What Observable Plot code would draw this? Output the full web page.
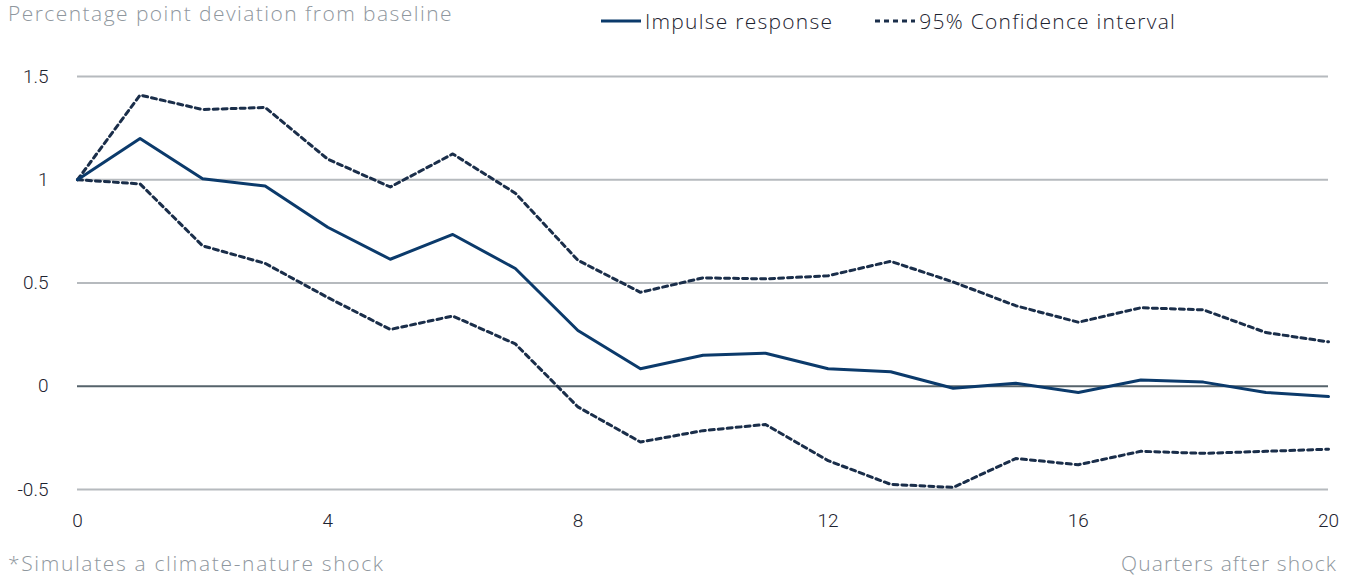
<!DOCTYPE html>
<html>
<head>
<meta charset="utf-8">
<script src="https://cdn.jsdelivr.net/npm/d3@7"></script>
<script src="https://cdn.jsdelivr.net/npm/@observablehq/plot@0.6"></script>
<style>
  html, body { margin: 0; padding: 0; background: #fff; }
  body { width: 1354px; height: 579px; overflow: hidden; position: relative; font-family: "Open Sans", Roboto, sans-serif; }
  .title { position: absolute; left: 8px; top: -1px; font-size: 21px; color: #8f979e; font-weight: 300; letter-spacing: 1.45px; white-space: nowrap; }
  .legend { position: absolute; top: 7px; left: 601px; font-size: 21px; color: #1d2330; font-weight: 300; display: flex; align-items: center; white-space: nowrap; }
  .legend .item { display: flex; align-items: center; letter-spacing: 1.25px; }
  .legend svg { margin-right: 4px; }
  .caption { position: absolute; top: 549px; font-size: 21px; color: #8f979e; font-weight: 300; white-space: nowrap; }
  #chart { position: absolute; left: 0; top: 40px; }
</style>
</head>
<body>
<div class="title">Percentage point deviation from baseline</div>
<div class="legend">
  <div class="item"><svg width="40" height="6"><line x1="0" y1="3" x2="40" y2="3" stroke="#0b3a6b" stroke-width="3"/></svg>Impulse response</div>
  <div class="item" style="margin-left:42px"><svg width="40" height="6"><line x1="0" y1="3" x2="40" y2="3" stroke="#1a2e4a" stroke-width="3" stroke-dasharray="5,4"/></svg>95% Confidence interval</div>
</div>
<div id="chart"></div>
<div class="caption" style="left:8px;letter-spacing:1.65px">*Simulates a climate-nature shock</div>
<div class="caption" style="right:17px;letter-spacing:1.1px">Quarters after shock</div>
<script>
const quarters = d3.range(0, 21);
const impulse = [1.0, 1.20, 1.005, 0.97, 0.77, 0.615, 0.735, 0.57, 0.27, 0.085, 0.15, 0.16, 0.085, 0.07, -0.01, 0.015, -0.03, 0.03, 0.02, -0.03, -0.05];
const upper = [1.0, 1.41, 1.34, 1.35, 1.10, 0.965, 1.125, 0.935, 0.61, 0.455, 0.525, 0.52, 0.535, 0.605, 0.505, 0.39, 0.31, 0.38, 0.37, 0.26, 0.215];
const lower = [1.0, 0.98, 0.68, 0.595, 0.43, 0.275, 0.34, 0.205, -0.10, -0.27, -0.215, -0.185, -0.36, -0.475, -0.49, -0.35, -0.38, -0.315, -0.325, -0.315, -0.305];
const xTicks = [0, 4, 8, 12, 16, 20];
const yTicks = [-0.5, 0, 0.5, 1, 1.5];
const yTickLabels = ["-0.5", "0", "0.5", "1", "1.5"];

const ci = [
  ...quarters.map((q, i) => ({q, v: upper[i], band: "upper"})),
  ...quarters.map((q, i) => ({q, v: lower[i], band: "lower"}))
];
const ir = quarters.map((q, i) => ({q, v: impulse[i]}));

const chart = Plot.plot({
  width: 1354,
  height: 510,
  marginLeft: 77,
  marginRight: 26,
  marginTop: 36,
  marginBottom: 61,
  style: {fontFamily: "Roboto, 'Noto Sans', sans-serif", fontSize: "19px", color: "#1d2330", background: "transparent"},
  x: {domain: [0, 20], ticks: xTicks, tickSize: 0, tickPadding: 24, label: null, tickFormat: d => String(d)},
  y: {domain: [-0.5, 1.5], ticks: yTicks, tickSize: 0, tickPadding: 29, label: null, tickFormat: d => yTickLabels[yTicks.indexOf(d)]},
  marks: [
    Plot.ruleY(yTicks.filter(d => d !== 0), {stroke: "#b6babe", strokeWidth: 2}),
    Plot.ruleY([0], {stroke: "#56636b", strokeWidth: 2}),
    Plot.line(ci, {x: "q", y: "v", z: "band", stroke: "#1a2e4a", strokeWidth: 3, strokeDasharray: "5,4"}),
    Plot.line(ir, {x: "q", y: "v", stroke: "#0b3a6b", strokeWidth: 3})
  ]
});
chart.querySelectorAll("text").forEach(t => t.setAttribute("font-weight", "300"));
document.getElementById("chart").appendChild(chart);
</script>
</body>
</html>
